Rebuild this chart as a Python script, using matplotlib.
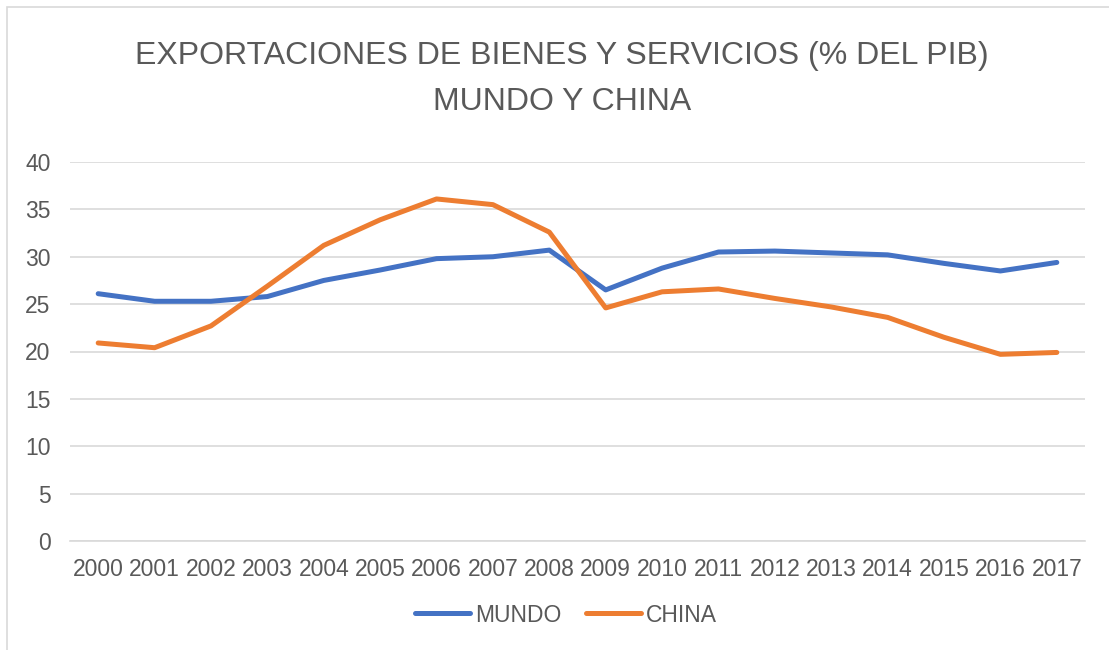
import matplotlib
matplotlib.use("Agg")
import matplotlib.pyplot as plt
from matplotlib.patches import Rectangle
from matplotlib import font_manager as fm

years = [str(y) for y in range(2000, 2018)]
mundo = [26.1, 25.3, 25.3, 25.8, 27.5, 28.6, 29.8, 30.0, 30.7, 26.5, 28.8, 30.5, 30.6, 30.4, 30.2, 29.3, 28.5, 29.4]
china = [20.9, 20.4, 22.7, 26.9, 31.2, 33.9, 36.1, 35.5, 32.6, 24.6, 26.3, 26.6, 25.6, 24.7, 23.6, 21.5, 19.7, 19.9]
title = "EXPORTACIONES DE BIENES Y SERVICIOS (% DEL PIB)\nMUNDO Y CHINA"
yticks = [0, 5, 10, 15, 20, 25, 30, 35, 40]

names = {f.name for f in fm.fontManager.ttflist}
fam = "Liberation Sans Narrow" if "Liberation Sans Narrow" in names else "Liberation Sans"
plt.rcParams['font.family'] = [fam, 'DejaVu Sans']

txt = "#595959"
fig = plt.figure(figsize=(11.09, 6.5), dpi=100)
fig.patches.append(Rectangle((7/1109, -0.1), 1.2, 1 - 7/650 + 0.1, transform=fig.transFigure,
                             fill=False, edgecolor="#D9D9D9", linewidth=1.2))
ax = fig.add_axes([70/1109, 1 - 541/650, (1085 - 70)/1109, (541 - 162)/650])
x = list(range(len(years)))
ax.plot(x, mundo, color="#4472C4", lw=3.6, solid_capstyle="round", label="MUNDO")
ax.plot(x, china, color="#ED7D31", lw=3.6, solid_capstyle="round", label="CHINA")
ax.set_xlim(-0.5, len(years) - 0.5)
ax.set_ylim(0, 40)
ax.set_yticks(yticks)
ax.set_xticks(x)
ax.set_xticklabels(years)
ax.grid(axis="y", color="#D9D9D9", lw=1.2)
ax.set_axisbelow(True)
for s in ax.spines.values():
    s.set_visible(False)
ax.spines["bottom"].set_visible(True)
ax.spines["bottom"].set_color("#D9D9D9")
ax.spines["bottom"].set_linewidth(1.2)
ax.tick_params(axis="both", length=0, labelsize=16.5, labelcolor=txt)
ax.tick_params(axis="y", pad=14)
ax.tick_params(axis="x", pad=12)
fig.text(562/1109, 1 - 79/650, title, ha="center", va="center", fontsize=23,
         color=txt, linespacing=1.7)
leg = fig.legend(loc="center", bbox_to_anchor=(566/1109, 1 - 615/650), ncol=2, frameon=False,
                 fontsize=16.5, handlelength=2.4, handletextpad=0.2, columnspacing=1.1)
for t in leg.get_texts():
    t.set_color(txt)
fig.savefig("out.png", dpi=100)
